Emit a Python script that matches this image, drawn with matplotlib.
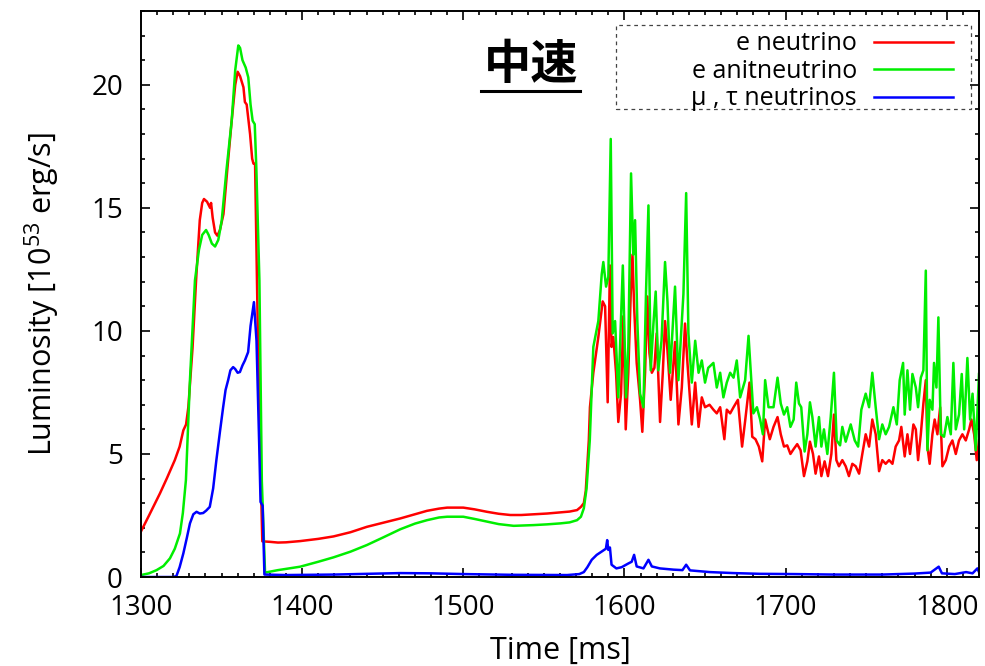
import numpy as np
import matplotlib
matplotlib.use("Agg")
import matplotlib.pyplot as plt
from matplotlib.patches import Rectangle
from matplotlib.ticker import MultipleLocator

plt.rcParams['font.family'] = ['Open Sans', 'Noto Sans CJK JP', 'DejaVu Sans']
plt.rcParams['mathtext.fontset'] = 'custom'
plt.rcParams['mathtext.rm'] = 'Open Sans'
plt.rcParams['mathtext.default'] = 'regular'

# e neutrino (red)
t_e = [1300, 1305, 1311.8, 1316, 1321, 1324, 1326.3, 1328, 1329.4, 1332, 1334.2, 1336.5, 1338, 1339.1,
       1341, 1342.9, 1343.5, 1344.5, 1346, 1347.4, 1349, 1351.2, 1353.5, 1356.3, 1358.5, 1360, 1361.5,
       1363.6, 1364.5, 1365.6, 1367.7, 1369, 1369.8, 1370.8, 1372.5, 1374, 1375.3, 1380, 1385, 1390,
       1398.8, 1410, 1419.5, 1430, 1440.2, 1450, 1460.9, 1470, 1477.5, 1485, 1490, 1500, 1507, 1514.7,
       1522, 1529.2, 1536, 1543.7, 1552, 1560.3, 1566, 1570.6, 1573, 1574.8, 1576, 1577.9, 1578.6,
       1580.7, 1583.8, 1586.5, 1588, 1589, 1589.6, 1591, 1592, 1593.1, 1594.8, 1596.2, 1597.9, 1599.3,
       1600.8, 1602.4, 1603.9, 1605, 1606, 1607.6, 1609.7, 1611.1, 1612.8, 1614.2, 1615.5, 1617, 1618.6,
       1620, 1622.1, 1623.8, 1625.2, 1626.7, 1628.7, 1631.4, 1633.5, 1635.6, 1637.6, 1639.1, 1641.8,
       1643.9, 1646, 1648, 1650, 1652.8, 1655.2, 1657.3, 1659.4, 1662, 1663.5, 1665.6, 1667.7, 1670.4,
       1673, 1675, 1677.6, 1679.3, 1681.3, 1683.4, 1685.5, 1687.3, 1690.2, 1692.5, 1695, 1697,
       1699, 1701, 1703, 1705, 1707.2, 1709.3, 1711.4, 1713.5, 1715.1, 1717, 1718.6, 1720.7, 1722.2,
       1724.2, 1726.3, 1728.4, 1730, 1731.5, 1733.1, 1735.2, 1737.3, 1739.3, 1741.4, 1743.5, 1745.6,
       1747.6, 1749.7, 1751.8, 1753.8, 1755.9, 1758, 1760, 1762.1, 1764.2, 1766.3, 1768.3, 1770.4,
       1771.8, 1773.9, 1775.6, 1777.2, 1779.3, 1780.8, 1782.2, 1783.9, 1785.5, 1787, 1788, 1789.4,
       1791.1, 1792.5, 1794.2, 1795.9, 1797.3, 1799.4, 1801.5, 1803.5, 1805.6, 1807.6, 1809.7, 1811.8,
       1813.9, 1815.3, 1817, 1818.6, 1820]
lum_e = [1.85, 2.5, 3.4, 4.0, 4.75, 5.3, 5.96, 6.2, 6.9, 9.3, 12.05, 14.5, 15.2, 15.36,
         15.25, 15.0, 15.2, 14.6, 14.0, 13.87, 14.1, 14.75, 16.5, 18.54, 20.0, 20.53, 20.35,
         19.9, 19.3, 19.2, 18.0, 17.0, 16.8, 16.8, 10.0, 5.0, 1.45, 1.43, 1.40, 1.41,
         1.46, 1.55, 1.65, 1.82, 2.04, 2.2, 2.38, 2.55, 2.69, 2.78, 2.82, 2.82, 2.75, 2.65,
         2.57, 2.52, 2.52, 2.55, 2.58, 2.63, 2.66, 2.72, 2.85, 3.0, 3.5, 5.56, 6.9,
         8.3, 9.75, 11.2, 11.0, 8.5, 7.1, 12.66, 9.35, 9.75, 8.3, 6.3, 7.45, 10.6,
         6.0, 8.3, 11.5, 13.1, 11.0, 8.7, 7.2, 5.9, 8.3, 11.4, 9.1, 8.3, 8.5,
         9.9, 6.3, 8.3, 10.4, 9.2, 7.2, 9.55, 6.2, 7.7, 10.3, 8.7, 6.2,
         7.9, 6.1, 7.3, 6.9, 7.0, 6.8, 6.65, 6.9, 5.6, 6.8, 6.65, 6.9, 7.2,
         5.3, 6.4, 7.9, 5.7, 5.6, 5.3, 4.7, 6.4, 5.6, 6.1, 6.5, 5.8,
         5.3, 5.35, 5.0, 5.2, 5.4, 5.15, 4.1, 4.7, 5.5, 5.0, 4.2, 4.9, 4.1,
         4.7, 4.1, 5.0, 6.6, 4.75, 4.5, 4.75, 4.5, 4.1, 4.6, 4.5, 4.2,
         5.0, 5.8, 5.3, 6.4, 5.8, 4.3, 4.75, 4.6, 4.75, 4.6, 5.3, 5.55,
         6.1, 4.9, 5.8, 5.0, 6.2, 6.0, 4.75, 5.8, 7.05, 8.0, 5.3, 4.6,
         5.8, 6.4, 5.8, 6.9, 4.5, 4.75, 5.3, 5.55, 5.0, 5.55, 5.8, 5.55,
         6.0, 6.4, 5.8, 4.75, 5.55]

# e antineutrino (green)
t_anti = [1300, 1305, 1309.7, 1314, 1318, 1321, 1324.2, 1326, 1327.9, 1330.4, 1333.5, 1336, 1338,
          1340.4, 1342, 1344, 1346, 1348, 1350.1, 1353, 1356.3, 1358.5, 1360.4, 1361.5, 1363, 1365,
          1366.6, 1368, 1369.3, 1370.6, 1371.6, 1373.5, 1375, 1377, 1385, 1398.8, 1410, 1419.5,
          1430, 1440.2, 1450, 1460.9, 1470, 1477.5, 1485, 1490, 1500, 1507, 1514.7, 1522, 1531.3,
          1543.7, 1552, 1560.3, 1566, 1570.6, 1573, 1574.8, 1576.5, 1578.5, 1580.7, 1583.8, 1585.9,
          1586.9, 1588.6, 1590, 1591.5, 1592.7, 1594.2, 1596.2, 1599, 1601, 1602.4, 1604.1, 1605.5,
          1606.6, 1608, 1609.7, 1611.8, 1613.4, 1614.9, 1616.3, 1618, 1619.4, 1621, 1623, 1625.2,
          1626.7, 1628.3, 1631.4, 1633.5, 1636.6, 1638.3, 1639.7, 1641.8, 1643.9, 1646, 1648, 1650,
          1652, 1655.2, 1657.3, 1659.4, 1661.4, 1663.5, 1665.6, 1667.7, 1669.7, 1671.8, 1674.9, 1677,
          1678.4, 1680, 1682.2, 1684.2, 1685.9, 1687.3, 1689.4, 1692.5, 1695, 1697,
          1699, 1701, 1703, 1705, 1706.6, 1708.3, 1709.7, 1711.8, 1713.5, 1715.1, 1716.6, 1718.6,
          1720.7, 1722.2, 1723.8, 1725.9, 1728, 1730, 1731.7, 1733.8, 1735.2, 1737.3, 1740.4, 1742.9,
          1745, 1747, 1749.7, 1751.8, 1753.8, 1755.9, 1758, 1760, 1762.1, 1764.2, 1766.9, 1769,
          1770.8, 1772.9, 1773.9, 1775.6, 1777.2, 1778.7, 1780.8, 1782.2, 1783.9, 1785.5, 1787, 1788,
          1789.4, 1791.1, 1792.1, 1793.6, 1794.8, 1796.3, 1798.3, 1800.4, 1802.5, 1804.1, 1805.6,
          1807.6, 1809.3, 1810.8, 1812.8, 1814.5, 1816, 1818, 1820]
lum_anti = [0.08, 0.15, 0.28, 0.45, 0.76, 1.15, 1.77, 2.6, 3.94, 8.0, 12.05, 13.3, 13.9,
            14.1, 13.9, 13.55, 13.43, 13.7, 14.48, 16.5, 18.54, 20.6, 21.6, 21.5, 21.0, 20.7,
            20.3, 19.2, 18.54, 18.4, 16.6, 12.05, 3.9, 0.18, 0.28, 0.42, 0.62, 0.8,
            1.03, 1.3, 1.6, 1.94, 2.17, 2.31, 2.42, 2.45, 2.45, 2.36, 2.25, 2.15, 2.08,
            2.11, 2.14, 2.18, 2.22, 2.31, 2.45, 2.79, 3.6, 5.56, 9.35, 10.4, 12.3,
            12.8, 11.8, 12.2, 17.8, 9.9, 10.4, 7.3, 12.66, 7.3, 9.35, 16.4, 13.1,
            14.5, 10.4, 7.45, 6.9, 11.6, 15.1, 8.4, 10.3, 11.6, 8.4, 9.6, 12.8,
            11.2, 8.3, 11.8, 8.0, 11.5, 15.6, 9.9, 7.9, 9.6, 8.3, 8.8, 7.9,
            8.5, 8.7, 7.7, 8.3, 7.3, 7.9, 8.3, 8.1, 8.8, 7.3, 8.0, 9.8,
            8.3, 6.65, 6.9, 6.4, 5.8, 8.0, 6.9, 6.9, 8.1, 7.05,
            6.6, 6.9, 6.1, 6.4, 7.9, 7.05, 6.9, 5.1, 5.8, 7.1, 6.5, 5.3,
            6.5, 5.3, 6.0, 5.0, 6.5, 8.3, 5.55, 5.35, 6.1, 5.5, 6.2, 5.55,
            5.3, 6.8, 7.45, 6.9, 8.3, 6.9, 5.6, 6.2, 5.8, 6.1, 6.9, 6.2,
            8.0, 8.7, 6.6, 8.4, 6.8, 8.25, 7.7, 6.9, 8.1, 8.4, 12.45, 5.15,
            7.2, 6.8, 8.7, 7.7, 10.55, 5.8, 5.7, 6.5, 5.8, 8.7, 6.0,
            6.6, 8.25, 6.0, 8.9, 6.4, 7.45, 5.15, 8.25]

# mu, tau neutrinos (blue)
t_mu = [1300, 1315, 1320, 1322, 1324, 1326.3, 1328.5, 1330.4, 1332.5, 1334.5, 1336.5, 1338.6, 1340.5,
        1342.7, 1344.8, 1346.8, 1349, 1351, 1352.5, 1354.1, 1355.5, 1357.2, 1358.5, 1360, 1361.4, 1363,
        1364.5, 1366.5, 1368, 1370.1, 1371.7, 1373.4, 1374.2, 1375.5, 1376.6, 1390, 1420, 1460.9, 1480,
        1500, 1530, 1564.4, 1572, 1574.8, 1577, 1579.7, 1582.8, 1586, 1588.5, 1589.3, 1590, 1591, 1592,
        1595, 1598.3, 1602.4, 1604.5, 1606, 1607.6, 1611.8, 1614.9, 1617, 1622, 1630.4, 1636, 1638.3,
        1640.7, 1653, 1667.7, 1684, 1705, 1730, 1760, 1780, 1790, 1795, 1797, 1805, 1812, 1816, 1819, 1820]
lum_mu = [0.0, 0.0, 0.0, 0.04, 0.4, 0.96, 1.6, 2.18, 2.55, 2.65, 2.58, 2.6, 2.7,
          2.85, 3.6, 4.75, 5.9, 6.9, 7.6, 8.0, 8.4, 8.53, 8.45, 8.3, 8.33, 8.6,
          8.8, 9.14, 10.2, 11.17, 9.6, 5.3, 3.05, 2.9, 0.1, 0.08, 0.1, 0.16, 0.15,
          0.12, 0.09, 0.08, 0.12, 0.2, 0.4, 0.7, 0.9, 1.04, 1.15, 1.5, 1.1, 1.2, 0.5,
          0.35, 0.4, 0.55, 0.62, 0.9, 0.43, 0.35, 0.7, 0.43, 0.35, 0.3, 0.28, 0.5,
          0.27, 0.2, 0.16, 0.13, 0.12, 0.1, 0.1, 0.14, 0.18, 0.42, 0.15, 0.12, 0.2, 0.15, 0.35, 0.2]

labels = ['e neutrino', 'e anitneutrino', 'μ , τ neutrinos']
colors = ['#ff0000', '#00ee00', '#0000ff']

fig = plt.figure(figsize=(9.85, 6.66), dpi=100)
ax = fig.add_axes([0.1431, 0.1336, 0.8508, 0.8499])

for t, y, lab, c in zip([t_e, t_anti, t_mu], [lum_e, lum_anti, lum_mu], labels, colors):
    ax.plot(t, y, color=c, lw=1.8, label=lab)

ax.set_xlim(1300, 1820)
ax.set_ylim(0, 23)
ax.xaxis.set_major_locator(MultipleLocator(100))
ax.xaxis.set_minor_locator(MultipleLocator(10))
ax.yaxis.set_major_locator(MultipleLocator(5))
ax.yaxis.set_minor_locator(MultipleLocator(1))
ax.tick_params(which='both', direction='in', top=True, right=True, width=1.2, labelsize=20)
ax.tick_params(which='major', length=6.5)
ax.tick_params(which='minor', length=3)
ax.tick_params(axis='x', pad=12)
ax.tick_params(axis='y', pad=13)
for s in ax.spines.values():
    s.set_linewidth(1.4)

ax.set_xlabel('Time [ms]', fontsize=22)
ax.set_ylabel('Luminosity [10$^{53}$ erg/s]', fontsize=22)
ax.yaxis.set_label_coords(-0.094, 0.5)
ax.xaxis.set_label_coords(0.5, -0.104)

# title with underline
ax.text(0.4654, 0.9037, '中速', transform=ax.transAxes, ha='center', va='center',
        fontsize=34, fontweight='bold', family=['Noto Sans CJK JP'])
ax.plot([0.4057, 0.5239], [0.8587, 0.8587], transform=ax.transAxes, color='black', lw=2.2,
        clip_on=False)

leg = ax.legend(loc='upper right', bbox_to_anchor=(0.969, 0.9638), frameon=False, fontsize=18,
                markerfirst=False, handlelength=3.16, handletextpad=0.68, borderpad=0,
                borderaxespad=0, labelspacing=0.1)
ax.add_patch(Rectangle((0.5668, 0.8269), 0.9905 - 0.5668, 0.9753 - 0.8269, transform=ax.transAxes,
                       fill=False, ls=(0, (3, 3)), lw=0.9, edgecolor='#444444'))

fig.savefig('out.png', dpi=100)
